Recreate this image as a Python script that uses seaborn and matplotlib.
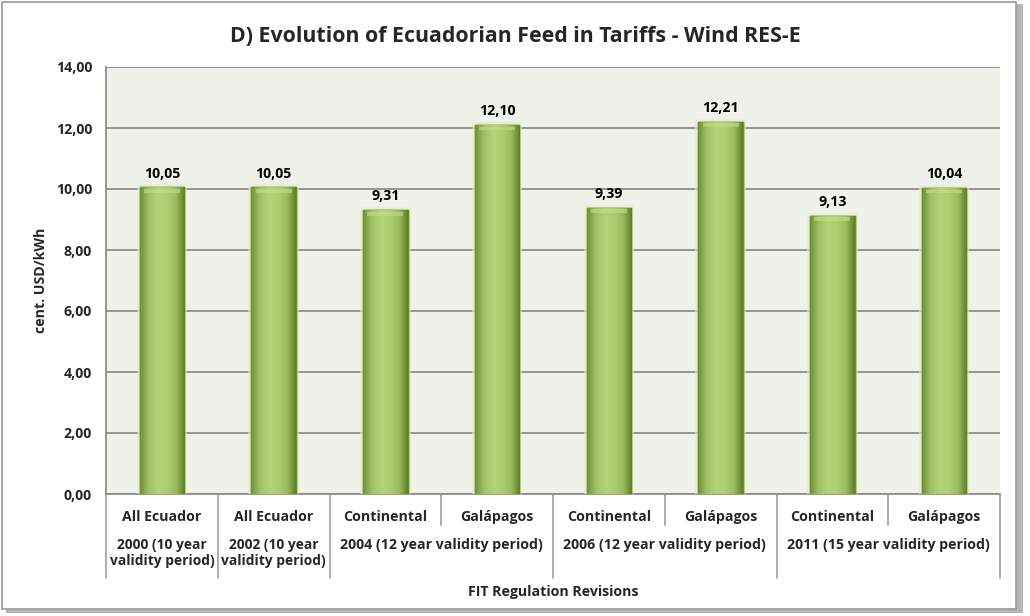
import numpy as np
import pandas as pd
import matplotlib
matplotlib.use("Agg")
import matplotlib.pyplot as plt
import matplotlib.patheffects as pe
from matplotlib.patches import Rectangle
from matplotlib.lines import Line2D
from matplotlib.colors import LinearSegmentedColormap
import seaborn as sns

# Feed-in tariff data (cent. USD/kWh)
regions = ["All Ecuador", "All Ecuador", "Continental", "Galápagos",
           "Continental", "Galápagos", "Continental", "Galápagos"]
tariffs = [10.05, 10.05, 9.31, 12.10, 9.39, 12.21, 9.13, 10.04]
revisions = ["2000 (10 year\nvalidity period)", "2002 (10 year\nvalidity period)",
             "2004 (12 year validity period)", "2006 (12 year validity period)",
             "2011 (15 year validity period)"]
revision_sizes = [1, 1, 2, 2, 2]
yticks = [0, 2, 4, 6, 8, 10, 12, 14]

sns.set_theme(style="white")
plt.rcParams["font.family"] = ["Open Sans", "DejaVu Sans"]
plt.rcParams["font.weight"] = "bold"

FS = 10.2

fig = plt.figure(figsize=(10.30, 6.16), dpi=100)
fig.patch.set_facecolor("white")

# chart frame with a soft shadow
fig.patches.append(Rectangle((6 / 1030, 3 / 616), 1017 / 1030, 609 / 616,
                             transform=fig.transFigure, facecolor="#b5b5b5",
                             edgecolor="none", zorder=-3))
fig.patches.append(Rectangle((2 / 1030, 7 / 616), 1014 / 1030, 607 / 616,
                             transform=fig.transFigure, facecolor="white",
                             edgecolor="#9a9a9a", linewidth=1.2, zorder=-2))

ax = fig.add_axes([106 / 1030, 1 - 494 / 616, 894 / 1030, 427 / 616])
ax.set_facecolor("#eff2ea")

df = pd.DataFrame({"slot": list(range(len(tariffs))), "tariff": tariffs})
sns.barplot(data=df, x="slot", y="tariff", ax=ax, width=0.40,
            color="#a9c86a", saturation=1, edgecolor="#6b8a36", linewidth=1.0,
            zorder=3)

# shaded fill inside each bar
shade = LinearSegmentedColormap.from_list(
    "bar", ["#6f8f3a", "#a0c262", "#b4d277", "#afce70", "#9cbc5c", "#5f7e2c"])
grad = np.linspace(0, 1, 256).reshape(1, -1)
for patch in ax.patches:
    x0, w, h = patch.get_x(), patch.get_width(), patch.get_height()
    patch.set_path_effects([pe.withStroke(linewidth=4, foreground="#e2f1b0", alpha=0.7),
                            pe.Normal()])
    im = ax.imshow(grad, cmap=shade, aspect="auto", extent=(x0, x0 + w, 0, h),
                   zorder=3.5)
    im.set_clip_path(patch)
    cap = 0.12
    ax.add_patch(Rectangle((x0 + w * 0.1, h - cap - 0.06), w * 0.8, cap,
                           facecolor="#c3de8c", edgecolor="none", alpha=0.6, zorder=3.6))
    ax.text(x0 + w / 2, h + 0.22, f"{h:.2f}".replace(".", ","), ha="center",
            va="bottom", fontsize=FS, fontweight="bold", color="black", zorder=5)

ax.set_xlim(-0.5, len(tariffs) - 0.5)
ax.set_ylim(0, 14)
ax.set_yticks(yticks)
ax.set_yticklabels([f"{v:.2f}".replace(".", ",") for v in yticks],
                   fontsize=FS, fontweight="bold")
ax.yaxis.grid(True, color="#8e8e8e", linewidth=1.3, zorder=1)
ax.set_axisbelow(True)
ax.tick_params(axis="y", length=5, color="#8e8e8e", width=1.2, pad=5)
ax.set_xticks([])
ax.set_xlabel("")
ax.set_ylabel("cent. USD/kWh", fontsize=FS, fontweight="bold", va="center")
ax.yaxis.set_label_coords(-65 / 894, 0.5)
for side in ("top", "right"):
    ax.spines[side].set_visible(False)
for side in ("left", "bottom"):
    ax.spines[side].set_color("#8e8e8e")
    ax.spines[side].set_linewidth(1.3)

# two-level category axis
trans = ax.get_xaxis_transform()
px = 1 / 427  # one pixel in axes-height units
short_y = -31 * px
long_y = -84 * px
for i, r in enumerate(regions):
    ax.text(i, -23 * px, r, transform=trans, ha="center", va="center",
            fontsize=FS, fontweight="bold")

bounds = np.concatenate([[0], np.cumsum(revision_sizes)]) - 0.5
for b in bounds:
    ax.add_line(Line2D([b, b], [0, long_y], transform=trans, color="#a0a0a0",
                       linewidth=1.2, clip_on=False))
for start, size in zip(bounds[:-1], revision_sizes):
    for k in range(1, size):
        ax.add_line(Line2D([start + k, start + k], [0, short_y], transform=trans,
                           color="#a0a0a0", linewidth=1.2, clip_on=False))
for start, size, label in zip(bounds[:-1], revision_sizes, revisions):
    ax.text(start + size / 2, -44 * px, label, transform=trans, ha="center",
            va="top", fontsize=FS if size > 1 else 9.9, fontweight="bold",
            linespacing=1.15)

fig.text(553 / 1030, 1 - 592 / 616, "FIT Regulation Revisions", ha="center",
         va="center", fontsize=FS, fontweight="bold")
fig.text(515 / 1030, 1 - 36 / 616, "D) Evolution of Ecuadorian Feed in Tariffs - Wind RES-E",
         ha="center", va="center", fontsize=15.4, fontweight="bold")

fig.savefig("out.png", dpi=100, facecolor="white")
